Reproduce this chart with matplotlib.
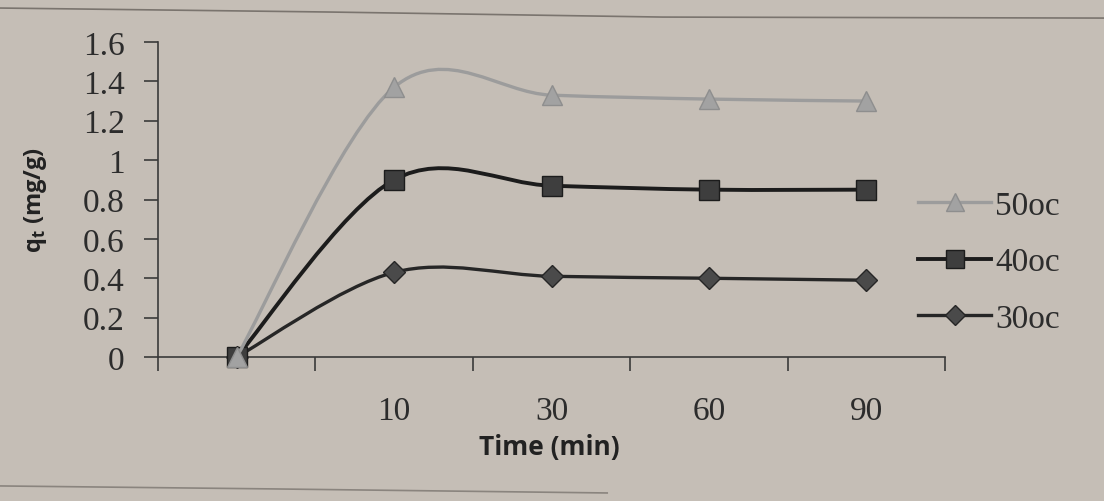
import numpy as np
import matplotlib
matplotlib.use("Agg")
import matplotlib.pyplot as plt
from matplotlib.path import Path
from matplotlib.patches import PathPatch
from matplotlib.lines import Line2D

# data (category axis, first point unlabeled)
time_labels = ["", "10", "30", "60", "90"]
q_50 = [0.0, 1.37, 1.33, 1.31, 1.30]
q_40 = [0.0, 0.90, 0.87, 0.85, 0.85]
q_30 = [0.0, 0.43, 0.41, 0.40, 0.39]
y_ticks = [0, 0.2, 0.4, 0.6, 0.8, 1.0, 1.2, 1.4, 1.6]
y_tick_labels = ["0", "0.2", "0.4", "0.6", "0.8", "1", "1.2", "1.4", "1.6"]

bg = "#c5beb6"
ink = "#2c2c2c"


def smooth_path(xs, ys):
    # excel style smoothed line: cubic bezier through every point
    pts = np.column_stack([xs, ys]).astype(float)
    n = len(pts)
    verts = [pts[0]]
    codes = [Path.MOVETO]
    for i in range(n - 1):
        p0 = pts[i - 1] if i > 0 else pts[i]
        p1 = pts[i]
        p2 = pts[i + 1]
        p3 = pts[i + 2] if i + 2 < n else pts[i + 1]
        verts += [p1 + (p2 - p0) / 6, p2 - (p3 - p1) / 6, p2]
        codes += [Path.CURVE4] * 3
    return Path(verts, codes)


fig = plt.figure(figsize=(11.04, 5.02), dpi=100)
fig.patch.set_facecolor(bg)

# page rules of the photographed page
fig.add_artist(Line2D([0, 0.3, 0.6, 1], [0.982, 0.974, 0.964, 0.962],
                      transform=fig.transFigure, color="#7a746e", lw=1.2))
fig.add_artist(Line2D([0, 0.25, 0.55], [0.030, 0.024, 0.016],
                      transform=fig.transFigure, color="#8a847e", lw=1.2))

ax = fig.add_axes([158 / 1104, 1 - 358 / 502, (945 - 158) / 1104, (358 - 43) / 502])
ax.set_facecolor(bg)
ax.set_xlim(-0.5, len(time_labels) - 0.5)
ax.set_ylim(0, 1.6)

x = np.arange(len(time_labels))
series = [
    ("50oc", q_50, "#9c9c9c", "#a2a2a2", "^", 15, 2.4, 4),
    ("40oc", q_40, "#1c1c1c", "#3e3e3e", "s", 14, 2.8, 3),
    ("30oc", q_30, "#262626", "#4a4a4a", "D", 11, 2.4, 2),
]
handles = []
for name, vals, lc, mc, mk, ms, lw, z in series:
    ax.add_patch(PathPatch(smooth_path(x, vals), fill=False, edgecolor=lc,
                           lw=lw, zorder=z, clip_on=False))
    ax.plot(x, vals, linestyle="none", marker=mk, markersize=ms,
            markerfacecolor=mc, markeredgecolor=lc if mk != "^" else "#8e8e8e",
            markeredgewidth=1.0, zorder=z + 0.5, clip_on=False)
    handles.append(Line2D([0], [0], color=lc, lw=lw, marker=mk,
                          markersize=ms * 0.9, markerfacecolor=mc,
                          markeredgecolor=lc if mk != "^" else "#8e8e8e"))

for s in ["top", "right"]:
    ax.spines[s].set_visible(False)
for s in ["left", "bottom"]:
    ax.spines[s].set_color("#3a3a3a")
    ax.spines[s].set_linewidth(1.2)

ax.set_yticks(y_ticks)
ax.set_yticklabels(y_tick_labels, family="Liberation Serif", fontsize=24, color=ink)
ax.tick_params(axis="y", length=10, width=1.2, color="#3a3a3a", pad=14)

ax.set_xticks(np.arange(-0.5, len(time_labels)), labels=[])
ax.set_xticks(x, labels=time_labels, minor=True)
ax.tick_params(axis="x", which="major", length=10, width=1.2, color="#3a3a3a")
ax.tick_params(axis="x", which="minor", length=0, pad=28)
for t in ax.get_xticklabels(minor=True):
    t.set_family("Liberation Serif")
    t.set_fontsize(24)
    t.set_color(ink)

ax.set_xlabel("Time (min)", family="Open Sans", fontweight="bold",
              fontsize=19, color="#222222")
ax.xaxis.set_label_coords(0.497, -0.24)
ax.set_ylabel("q$_\\mathregular{t}$ (mg/g)", family="Open Sans",
              fontweight="bold", fontsize=17, color="#222222")
ax.yaxis.set_label_coords(-0.138, 0.5)

leg = fig.legend(handles, [s[0] for s in series], loc="center left",
                 bbox_to_anchor=(918 / 1104, 1 - 263 / 502), frameon=False,
                 prop={"family": "Liberation Serif", "size": 24},
                 handlelength=2.2, handletextpad=0.12, labelspacing=0.78,
                 borderpad=0, borderaxespad=0)
for t in leg.get_texts():
    t.set_color(ink)

fig.savefig("out.png", dpi=100, facecolor=bg)
